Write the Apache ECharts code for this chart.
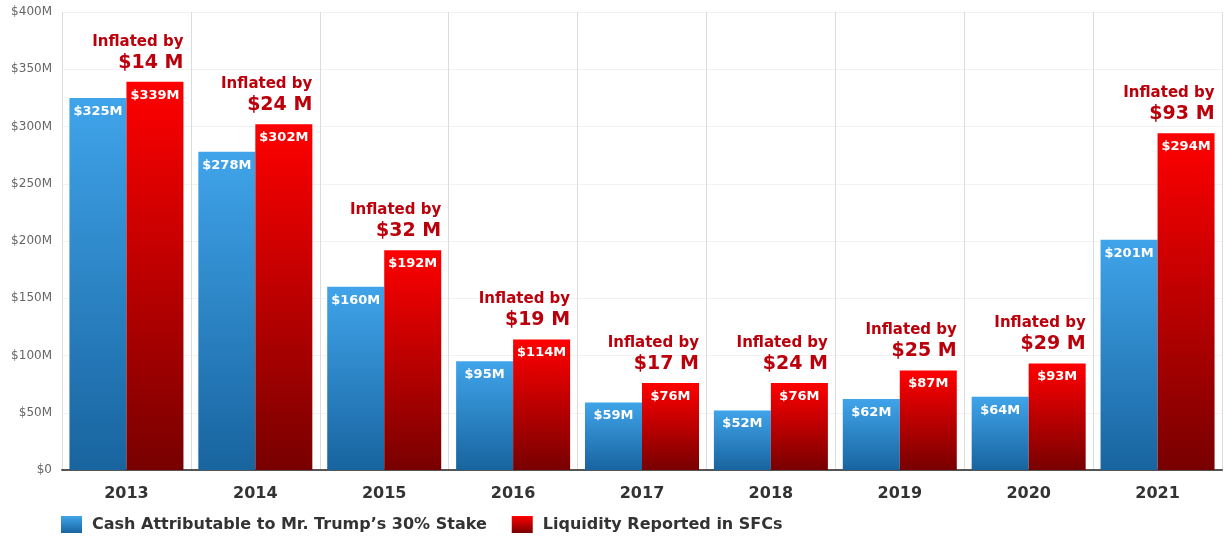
<!DOCTYPE html>
<html>
<head>
<meta charset="utf-8">
<script src="https://cdn.jsdelivr.net/npm/echarts@6/dist/echarts.min.js"></script>
<style>
  html, body { margin: 0; padding: 0; background: #fff; }
  #chart { width: 1228px; height: 539px; }
</style>
</head>
<body>
<div id="chart"></div>
<script>
// data
const years = ['2013', '2014', '2015', '2016', '2017', '2018', '2019', '2020', '2021']
const cashStake = [325, 278, 160, 95, 59, 52, 62, 64, 201]
const liquidity = [339, 302, 192, 114, 76, 76, 87, 93, 294]
const inflatedBy = [14, 24, 32, 19, 17, 24, 25, 29, 93]
const yTicks = [0, 50, 100, 150, 200, 250, 300, 350, 400]

const FONT = '"DejaVu Sans", Verdana, sans-serif'
const BAR_W = 57

function grad(top, bottom) {
  return new echarts.graphic.LinearGradient(0, 0, 0, 1, [
    { offset: 0, color: top },
    { offset: 1, color: bottom }
  ])
}

const chart = echarts.init(document.getElementById('chart'), null, { renderer: 'canvas' })

const valueLabel = {
  show: true,
  position: 'insideTop',
  distance: 7,
  color: '#fff',
  fontFamily: FONT,
  fontWeight: 'bold',
  fontSize: 13,
  formatter: p => '$' + p.value + 'M'
}

// "Inflated by" notes, right aligned on the red bar
const noteData = years.map((y, i) => [i, liquidity[i], inflatedBy[i]])

const option = {
  animation: false,
  textStyle: { fontFamily: FONT },
  grid: { left: 62, right: 6, top: 12, bottom: 69 },
  legend: {
    left: 56,
    top: 511,
    itemWidth: 21,
    itemHeight: 17,
    itemGap: 25,
    icon: 'rect',
    textStyle: { fontFamily: FONT, fontWeight: 'bold', fontSize: 16, color: '#333', padding: [0, 0, 0, 5] },
    data: ['Cash Attributable to Mr. Trump\u2019s 30% Stake', 'Liquidity Reported in SFCs']
  },
  xAxis: {
    type: 'category',
    data: years,
    axisTick: { show: false },
    axisLine: { lineStyle: { color: '#555', width: 2 } },
    axisLabel: { margin: 16, fontFamily: FONT, fontWeight: 'bold', fontSize: 16, color: '#333' },
    splitLine: { show: true, interval: 0, lineStyle: { color: '#dcdcdc', width: 1 } }
  },
  yAxis: {
    type: 'value',
    min: yTicks[0],
    max: yTicks[yTicks.length - 1],
    interval: 50,
    axisLine: { show: false },
    axisTick: { show: false },
    axisLabel: {
      margin: 10,
      fontFamily: FONT,
      fontSize: 12,
      color: '#666',
      formatter: v => v === 0 ? '$0' : '$' + v + 'M'
    },
    splitLine: { lineStyle: { color: '#f2f2f2' } }
  },
  series: [
    {
      name: 'Cash Attributable to Mr. Trump\u2019s 30% Stake',
      type: 'bar',
      data: cashStake,
      barWidth: BAR_W,
      barGap: '0%',
      itemStyle: { color: grad('#40a4ea', '#18649f') },
      label: valueLabel
    },
    {
      name: 'Liquidity Reported in SFCs',
      type: 'bar',
      data: liquidity,
      barWidth: BAR_W,
      barGap: '0%',
      itemStyle: { color: grad('#ff0000', '#780000') },
      label: valueLabel
    },
    {
      type: 'custom',
      data: noteData,
      silent: true,
      z: 10,
      renderItem: function (params, api) {
        const pt = api.coord([api.value(0), api.value(1)])
        const x = pt[0] + BAR_W
        return {
          type: 'group',
          children: [
            {
              type: 'text',
              x: x,
              y: pt[1] - 19,
              style: {
                text: '$' + api.value(2) + ' M',
                fill: '#bb000c',
                font: 'bold 19px ' + FONT,
                align: 'right',
                verticalAlign: 'middle'
              }
            },
            {
              type: 'text',
              x: x,
              y: pt[1] - 40,
              style: {
                text: 'Inflated by',
                fill: '#bb000c',
                font: 'bold 15px ' + FONT,
                align: 'right',
                verticalAlign: 'middle'
              }
            }
          ]
        }
      }
    }
  ]
}

chart.setOption(option)
</script>
</body>
</html>
